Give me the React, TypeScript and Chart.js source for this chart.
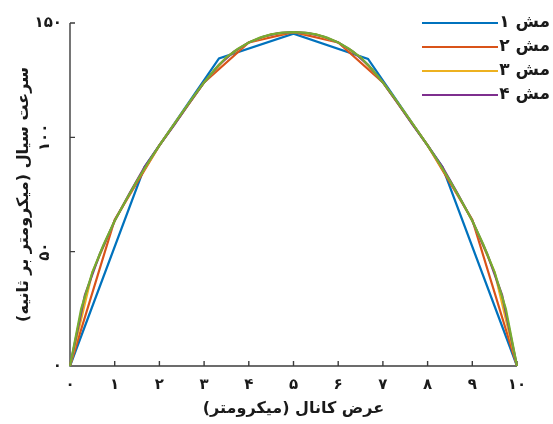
import { useEffect, useRef } from "react";
import { Chart, registerables } from "chart.js";

Chart.register(...registerables);

// ---- data ----
const mesh1X = [0, 1.667, 3.333, 5, 6.667, 8.333, 10];
const mesh1Y = [0, 87, 134.5, 145.3, 134.3, 87, 0];

const mesh2X = [0, 1, 2, 3, 4, 5, 6, 7, 8, 9, 10];
const mesh2Y = [0, 64, 96.5, 124, 141.5, 146, 141.5, 124, 96.5, 64, 0];

const mesh3X = [0, 0.5, 1, 1.5, 2, 2.5, 3, 3.5, 4, 4.5, 5, 5.5, 6, 6.5, 7, 7.5, 8, 8.5, 9, 9.5, 10];
const mesh3Y = [0, 41, 63.5, 81, 96.5, 110.5, 124, 135, 141.5, 145, 146, 145, 141.5, 135, 124, 110.5, 96.5, 81, 63.5, 41, 0];

const mesh4X = [
  0, 0.333, 0.667, 1, 1.333, 1.667, 2, 2.333, 2.667, 3, 3.333, 3.667, 4, 4.333, 4.667, 5,
  5.333, 5.667, 6, 6.333, 6.667, 7, 7.333, 7.667, 8, 8.333, 8.667, 9, 9.333, 9.667, 10,
];
const mesh4Y = [
  0, 31, 49, 63.5, 75.5, 87, 96.5, 105.5, 115, 124, 131.7, 137.5, 141.5, 144.1, 145.6, 146,
  145.6, 144.1, 141.5, 137.5, 131.7, 124, 115, 105.5, 96.5, 87, 75.5, 63.5, 49, 31, 0,
];

const mesh5X = [
  0, 0.25, 0.5, 0.75, 1, 1.25, 1.5, 1.75, 2, 2.25, 2.5, 2.75, 3, 3.25, 3.5, 3.75, 4, 4.25, 4.5, 4.75, 5,
  5.25, 5.5, 5.75, 6, 6.25, 6.5, 6.75, 7, 7.25, 7.5, 7.75, 8, 8.25, 8.5, 8.75, 9, 9.25, 9.5, 9.75, 10,
];
const mesh5Y = [
  0, 25, 41, 53, 63.5, 72.5, 81, 89, 96.5, 103.5, 110.5, 117.5, 124, 130, 135, 138.7, 141.5, 143.6, 145, 145.8, 146,
  145.8, 145, 143.6, 141.5, 138.7, 135, 130, 124, 117.5, 110.5, 103.5, 96.5, 89, 81, 72.5, 63.5, 53, 41, 25, 0,
];

const meshWord = "\u0645\u0634"; // مش
const meshNumbers = ["\u06F1", "\u06F2", "\u06F3", "\u06F4", "\u06F5"]; // ۱ ۲ ۳ ۴ ۵
const legendCount = 4;

const xTickValues = [0, 1, 2, 3, 4, 5, 6, 7, 8, 9, 10];
const xTickLabels = ["۰", "۱", "۲", "۳", "۴", "۵", "۶", "۷", "۸", "۹", "۱۰"];
const yTickValues = [0, 50, 100, 150];
const yTickLabels = ["۰", "۵۰", "۱۰۰", "۱۵۰"];

const xTitle = "عرض کانال (میکرومتر)";
const yTitle = "سرعت سیال (میکرومتر بر ثانیه)";

const colors = ["#0072BD", "#D95319", "#EDB120", "#7E2F8E", "#77AC30"];

const FONT = '"DejaVu Sans", "Noto Sans", sans-serif';
const TEXT = "#1a1a1a";
const AXIS = "#3c3c3c";

const toPts = (xs: number[], ys: number[]) => xs.map((x, i) => ({ x, y: ys[i] }));

const decorPlugin = {
  id: "decor",
  beforeDatasetsDraw(chart: any) {
    const { ctx, chartArea, scales } = chart;
    const { left, right, top, bottom } = chartArea;
    const xs = scales.x;
    const ys = scales.y;
    ctx.save();
    ctx.strokeStyle = AXIS;
    ctx.lineWidth = 1.4;
    ctx.beginPath();
    ctx.moveTo(left, top);
    ctx.lineTo(left, bottom);
    ctx.lineTo(right, bottom);
    for (const v of xTickValues) {
      const px = xs.getPixelForValue(v);
      ctx.moveTo(px, bottom);
      ctx.lineTo(px, bottom - 5);
    }
    for (const v of yTickValues) {
      const py = ys.getPixelForValue(v);
      ctx.moveTo(left, py);
      ctx.lineTo(left + 5, py);
    }
    ctx.stroke();
    ctx.restore();
  },
  afterDraw(chart: any) {
    const { ctx, chartArea, scales } = chart;
    const { left, right, top, bottom } = chartArea;
    const xs = scales.x;
    const ys = scales.y;
    ctx.save();
    ctx.fillStyle = TEXT;

    // x tick labels
    ctx.font = `bold 15px ${FONT}`;
    ctx.textAlign = "center";
    ctx.textBaseline = "middle";
    ctx.direction = "ltr";
    xTickValues.forEach((v, i) => {
      ctx.fillText(xTickLabels[i], xs.getPixelForValue(v), bottom + 19);
    });

    // y tick labels
    const last = yTickValues.length - 1;
    yTickValues.forEach((v, i) => {
      const py = ys.getPixelForValue(v);
      if (i > 0 && i < last) {
        ctx.save();
        ctx.translate(left - 25, py);
        ctx.rotate(-Math.PI / 2);
        ctx.textAlign = "center";
        ctx.textBaseline = "middle";
        ctx.fillText(yTickLabels[i], 0, 0);
        ctx.restore();
      } else {
        ctx.textAlign = "right";
        ctx.textBaseline = "middle";
        ctx.fillText(yTickLabels[i], left - 8, py);
      }
    });

    // axis titles
    ctx.font = `bold 16px ${FONT}`;
    ctx.direction = "rtl";
    ctx.textAlign = "center";
    ctx.textBaseline = "middle";
    ctx.fillText(xTitle, (left + right) / 2, bottom + 43);
    ctx.save();
    ctx.translate(24, (top + bottom) / 2);
    ctx.rotate(-Math.PI / 2);
    ctx.fillText(yTitle, 0, 0);
    ctx.restore();

    // legend (right-to-left labels)
    ctx.direction = "rtl";
    ctx.font = `bold 17px ${FONT}`;
    ctx.textBaseline = "middle";
    ctx.textAlign = "right";
    for (let i = 0; i < legendCount; i++) {
      const ly = 23 + i * 24;
      ctx.strokeStyle = colors[i];
      ctx.lineWidth = 2.2;
      ctx.beginPath();
      ctx.moveTo(422, ly);
      ctx.lineTo(498, ly);
      ctx.stroke();
      ctx.fillStyle = TEXT;
      ctx.fillText(meshWord + " " + meshNumbers[i], 550, ly);
    }
    ctx.restore();
  },
};

export default function App() {
  const ref = useRef<HTMLCanvasElement>(null);
  useEffect(() => {
    const xsList = [mesh1X, mesh2X, mesh3X, mesh4X, mesh5X];
    const ysList = [mesh1Y, mesh2Y, mesh3Y, mesh4Y, mesh5Y];
    const chart = new Chart(ref.current as HTMLCanvasElement, {
      type: "line",
      data: {
        datasets: xsList.map((xs, i) => ({
          label: meshWord + " " + meshNumbers[i],
          data: toPts(xs, ysList[i]),
          borderColor: colors[i],
          backgroundColor: colors[i],
          borderWidth: 2.2,
          pointRadius: 0,
          tension: 0,
          fill: false,
          clip: false as any,
          order: 5 - i,
        })),
      },
      options: {
        responsive: false,
        animation: false,
        layout: { padding: { left: 70, right: 36, top: 23, bottom: 58 } },
        plugins: { legend: { display: false }, tooltip: { enabled: false } },
        scales: {
          x: { type: "linear", min: 0, max: 10, display: false },
          y: { type: "linear", min: 0, max: 150, display: false },
        },
      },
      plugins: [decorPlugin],
    });
    return () => chart.destroy();
  }, []);
  return (
    <div style={{ position: "absolute", left: 0, top: 0, width: 553, height: 424, background: "#fff" }}>
      <canvas ref={ref} width={553} height={424} style={{ display: "block" }} />
    </div>
  );
}
